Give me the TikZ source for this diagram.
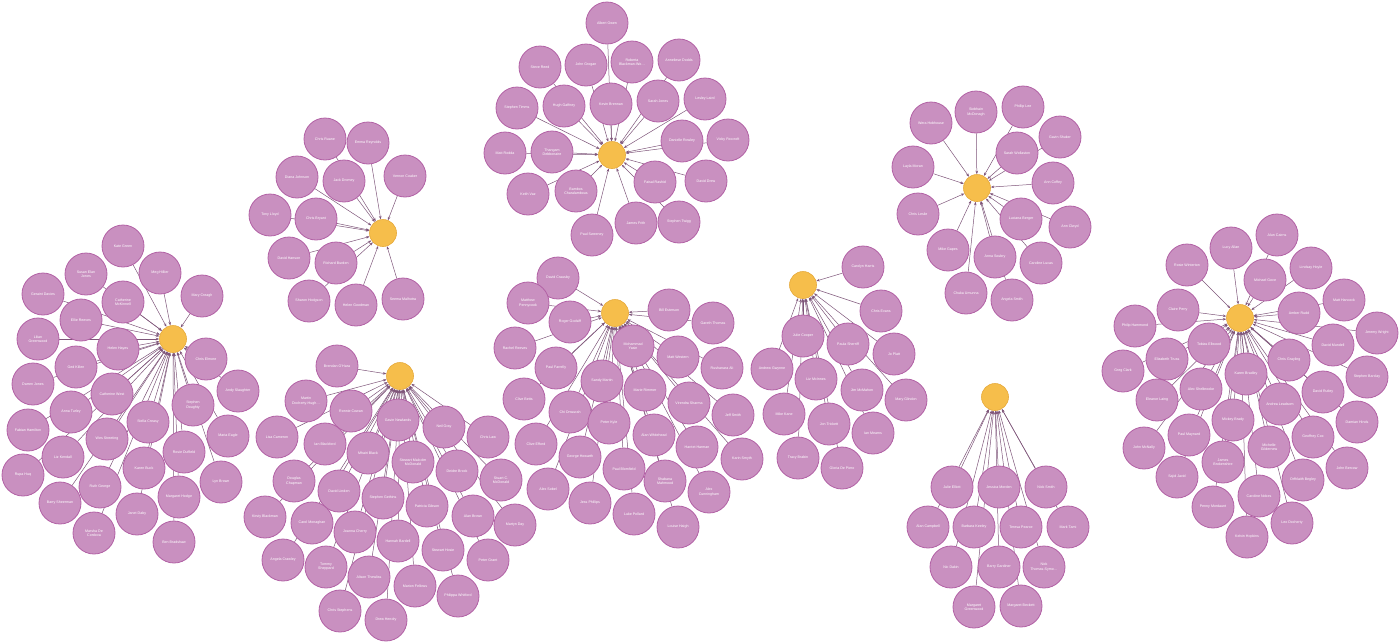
\documentclass[tikz,border=0pt]{standalone}
\usepackage{fontspec}
\setmainfont{Liberation Sans}
\usepackage{xcolor}
\definecolor{mpink}{HTML}{C990C0}
\definecolor{mborder}{HTML}{B261A5}
\definecolor{hubfill}{HTML}{F6BE4B}
\definecolor{hubborder}{HTML}{E6A93A}
\definecolor{linkcol}{HTML}{7E5579}
\usetikzlibrary{arrows.meta, backgrounds}

\begin{document}
\begin{tikzpicture}[
  x=1pt, y=-1pt,
  member/.style={circle, draw=mborder, line width=0.8pt, fill=mpink,
                 minimum size=42pt, inner sep=0pt, align=center,
                 text=white, font=\fontsize{3.6}{4.2}\selectfont},
  hub/.style={circle, draw=hubborder, line width=0.6pt, fill=hubfill,
              minimum size=27pt, inner sep=0pt},
  link/.style={-{Stealth[length=3.5pt, width=2.6pt]}, line width=0.5pt,
               color=linkcol}
]
  \useasboundingbox (0,0) rectangle (1400,643);

  % left group
  \node[hub] (grpA) at (173,339) {};
  \foreach \px/\py/\who [count=\i] in {
      123/246/Kate Green, 86/274/Susan Elan\\Jones, 160/273/Meg Hillier,
      43/294/Geraint Davies, 123/302/Catherine\\McKinnell, 202/296/Mary Creagh,
      81/320/Ellie Reeves, 38/339/Lilian\\Greenwood, 118/349/Helen Hayes,
      206/359/Chris Elmore, 76/367/Ged Killen, 33/384/Darren Jones,
      112/394/Catherine West, 238/391/Andy Slaughter, 193/405/Stephen\\Doughty,
      71/412/Anna Turley, 148/422/Stella Creasy, 28/430/Fabian Hamilton,
      107/439/Wes Streeting, 228/436/Maria Eagle, 184/452/Rosie Duffield,
      63/457/Liz Kendall, 144/468/Karen Buck, 23/475/Rupa Huq,
      221/482/Lyn Brown, 100/487/Ruth George, 179/497/Margaret Hodge,
      60/503/Barry Sheerman, 137/514/Janet Daby, 94/533/Marsha De\\Cordova,
      174/542/Ben Bradshaw} {
    \node[member] (grpA-\i) at (\px,\py) {\who};
    \begin{scope}[on background layer]
      \draw[link] (grpA-\i) -- (grpA);
    \end{scope}
  }

  % small upper-left group
  \node[hub] (grpB) at (383,233) {};
  \foreach \px/\py/\who [count=\i] in {
      325/139/Chris Ruane, 368/143/Emma Reynolds, 405/176/Vernon Coaker,
      297/177/Diana Johnson, 344/181/Jack Dromey, 270/215/Tony Lloyd,
      316/219/Chris Bryant, 289/258/David Hanson, 336/263/Richard Burden,
      309/301/Sharon Hodgson, 356/305/Helen Goodman, 403/299/Seema Malhotra} {
    \node[member] (grpB-\i) at (\px,\py) {\who};
    \begin{scope}[on background layer]
      \draw[link] (grpB-\i) -- (grpB);
    \end{scope}
  }

  % lower group
  \node[hub] (grpC) at (400,376) {};
  \foreach \px/\py/\who [count=\i] in {
      337/366/Brendan O'Hara, 306/401/Martin\\Docherty-Hugh\ldots, 351/411/Ronnie Cowan,
      398/420/Gavin Newlands, 444/427/Neil Gray, 277/437/Lisa Cameron,
      325/444/Ian Blackford, 488/437/Chris Law, 368/453/Mhairi Black,
      413/462/Stewart Malcolm\\McDonald, 457/471/Deidre Brock, 501/480/Stuart C.\\McDonald,
      294/481/Douglas\\Chapman, 339/491/David Linden, 383/498/Stephen Gethins,
      427/506/Patricia Gibson, 473/516/Alan Brown, 265/517/Kirsty Blackman,
      312/523/Carol Monaghan, 515/525/Martyn Day, 355/532/Joanna Cherry,
      398/541/Hannah Bardell, 443/550/Stewart Hosie, 283/560/Angela Crawley,
      326/567/Tommy\\Sheppard, 488/560/Peter Grant, 369/577/Alison Thewliss,
      415/586/Marion Fellows, 458/596/Philippa Whitford, 340/611/Chris Stephens,
      386/620/Drew Hendry} {
    \node[member] (grpC-\i) at (\px,\py) {\who};
    \begin{scope}[on background layer]
      \draw[link] (grpC-\i) -- (grpC);
    \end{scope}
  }

  % top group
  \node[hub] (grpD) at (612,155) {};
  \foreach \px/\py/\who [count=\i] in {
      607/23/Albert Owen, 540/67/Steve Reed, 586/65/John Grogan,
      632/62/Roberta\\Blackman-Wo\ldots, 679/60/Anneliese Dodds, 517/108/Stephen Timms,
      564/106/Hugh Gaffney, 611/104/Kevin Brennan, 658/101/Sarah Jones,
      705/99/Lesley Laird, 682/141/Danielle Rowley, 728/140/Vicky Foxcroft,
      505/153/Matt Rodda, 552/152/Thangam\\Debbonaire, 528/194/Keith Vaz,
      576/191/Bambos\\Charalambous, 655/182/Faisal Rashid, 706/181/David Drew,
      636/223/James Frith, 679/222/Stephen Twigg, 592/235/Paul Sweeney} {
    \node[member] (grpD-\i) at (\px,\py) {\who};
    \begin{scope}[on background layer]
      \draw[link] (grpD-\i) -- (grpD);
    \end{scope}
  }

  % centre group
  \node[hub] (grpE) at (615,313) {};
  \foreach \px/\py/\who [count=\i] in {
      558/278/David Crausby, 528/303/Matthew\\Pennycook, 570/322/Roger Godsiff,
      669/310/Bill Esterson, 713/323/Gareth Thomas, 515/348/Rachel Reeves,
      633/346/Mohammad\\Yasin, 678/357/Matt Western, 722/368/Rushanara Ali,
      556/368/Paul Farrelly, 602/381/Sandy Martin, 645/390/Marie Rimmer,
      524/399/Clive Betts, 689/403/Virendra Sharma, 733/415/Jeff Smith,
      570/412/Chi Onwurah, 609/423/Peter Kyle, 654/435/Alan Whitehead,
      697/447/Harriet Harman, 536/444/Clive Efford, 742/459/Karin Smyth,
      580/457/George Howarth, 624/469/Paul Blomfield, 665/481/Shabana\\Mahmood,
      709/492/Alex\\Cunningham, 548/489/Alex Sobel, 590/503/Jess Phillips,
      634/514/Luke Pollard, 678/527/Louise Haigh} {
    \node[member] (grpE-\i) at (\px,\py) {\who};
    \begin{scope}[on background layer]
      \draw[link] (grpE-\i) -- (grpE);
    \end{scope}
  }

  % middle-right group
  \node[hub] (grpF) at (803,285) {};
  \foreach \px/\py/\who [count=\i] in {
      863/267/Carolyn Harris, 881/311/Chris Evans, 803/336/Julie Cooper,
      848/344/Paula Sherriff, 894/354/Jo Platt, 772/369/Andrew Gwynne,
      816/379/Liz McInnes, 862/390/Jim McMahon, 906/400/Mary Glindon,
      784/414/Mike Kane, 829/424/Jon Trickett, 873/433/Ian Mearns,
      798/458/Tracy Brabin, 842/468/Gloria De Piero} {
    \node[member] (grpF-\i) at (\px,\py) {\who};
    \begin{scope}[on background layer]
      \draw[link] (grpF-\i) -- (grpF);
    \end{scope}
  }

  % upper-right group
  \node[hub] (grpG) at (977,188) {};
  \foreach \px/\py/\who [count=\i] in {
      931/123/Wera Hobhouse, 976/112/Siobhain\\McDonagh, 1023/107/Phillip Lee,
      1060/137/Gavin Shuker, 1017/153/Sarah Wollaston, 913/167/Layla Moran,
      1053/183/Ann Coffey, 918/214/Chris Leslie, 1021/219/Luciana Berger,
      1070/227/Ann Clwyd, 948/250/Mike Gapes, 995/257/Anna Soubry,
      1041/263/Caroline Lucas, 966/293/Chuka Umunna, 1012/300/Angela Smith} {
    \node[member] (grpG-\i) at (\px,\py) {\who};
    \begin{scope}[on background layer]
      \draw[link] (grpG-\i) -- (grpG);
    \end{scope}
  }

  % hanging group
  \node[hub] (grpH) at (995,397) {};
  \foreach \px/\py/\who [count=\i] in {
      952/487/Julie Elliott, 999/487/Jessica Morden, 1046/487/Nick Smith,
      928/527/Alan Campbell, 974/527/Barbara Keeley, 1021/527/Teresa Pearce,
      1068/527/Mark Tami, 951/567/Nic Dakin, 999/567/Barry Gardiner,
      1044/567/Nick\\Thomas-Symo\ldots, 974/607/Margaret\\Greenwood,
      1021/606/Margaret Beckett} {
    \node[member] (grpH-\i) at (\px,\py) {\who};
    \begin{scope}[on background layer]
      \draw[link] (grpH-\i) -- (grpH);
    \end{scope}
  }

  % right group
  \node[hub] (grpI) at (1240,318) {};
  \foreach \px/\py/\who [count=\i] in {
      1277/235/Alun Cairns, 1231/248/Lucy Allan, 1187/265/Rosie Winterton,
      1311/268/Lindsay Hoyle, 1265/280/Michael Gove, 1344/300/Matt Hancock,
      1178/310/Claire Perry, 1299/313/Amber Rudd, 1135/326/Philip Hammond,
      1377/333/Jeremy Wright, 1209/344/Tobias Ellwood, 1333/345/David Mundell,
      1167/359/Elizabeth Truss, 1289/360/Chris Grayling, 1123/371/Greg Clark,
      1246/374/Karen Bradley, 1367/377/Stephen Barclay, 1201/389/Alec Shelbrooke,
      1323/392/David Rutley, 1157/400/Eleanor Laing, 1280/404/Andrea Leadsom,
      1357/422/Damian Hinds, 1233/420/Mickey Brady, 1189/435/Paul Maynard,
      1313/437/Geoffrey Cox, 1144/448/John McNally, 1269/447/Michelle\\Gildernew,
      1223/462/James\\Brokenshire, 1347/468/John Bercow, 1177/477/Sajid Javid,
      1303/480/Orfhlaith Begley, 1259/496/Caroline Nokes, 1213/507/Penny Mordaunt,
      1292/523/Leo Docherty, 1247/537/Kelvin Hopkins} {
    \node[member] (grpI-\i) at (\px,\py) {\who};
    \begin{scope}[on background layer]
      \draw[link] (grpI-\i) -- (grpI);
    \end{scope}
  }
\end{tikzpicture}
\end{document}
